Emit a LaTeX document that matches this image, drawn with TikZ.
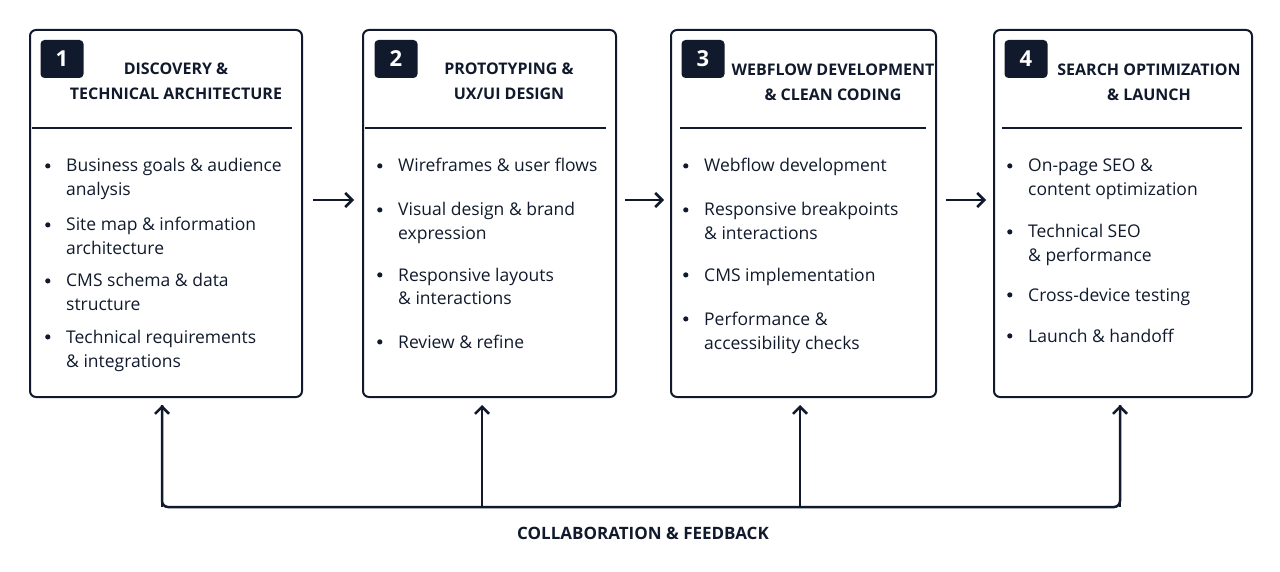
\documentclass[tikz,border=0pt]{standalone}
\usepackage{fontspec}
\setmainfont{Open Sans}
\usetikzlibrary{arrows.meta}
\definecolor{navy}{HTML}{111A2C}

\tikzset{
  stage/.style={draw=navy,line width=2pt,rounded corners=6pt},
  badge/.style={fill=navy,rounded corners=4pt,minimum width=43pt,minimum height=38pt,
    text=white,font=\fontsize{22}{22}\selectfont\bfseries,inner sep=0pt},
  head/.style={align=center,text=navy,font=\fontsize{16}{25}\selectfont\bfseries,inner sep=0pt},
  item/.style={anchor=north west,text=navy,inner sep=0pt,
    font=\fontsize{17.5}{24}\selectfont},
  flow/.style={draw=navy,line width=2.5pt,-{Straight Barb[length=7pt,width=14pt,line width=2.5pt]}},
  rule/.style={draw=navy,line width=2pt}
}
\newcommand{\bul}[1]{\makebox[21pt][l]{\raisebox{3.5pt}{\tikz\fill[navy] (0,0) circle (2.6pt);}}%
  \begin{tabular}[t]{@{}l@{}}#1\end{tabular}}

\begin{document}
\begin{tikzpicture}[x=1pt,y=-1pt]
\useasboundingbox (0,0) rectangle (1280,572);
% Stages
\draw[stage] (30,30) rectangle (302,397);
\draw[stage] (363,30) rectangle (616,397);
\draw[stage] (671,30) rectangle (936,397);
\draw[stage] (994,30) rectangle (1252,397);
\draw[rule] (32,128) -- (292,128);
\draw[rule] (365,128) -- (606,128);
\draw[rule] (680,128) -- (926,128);
\draw[rule] (1002,128) -- (1242,128);
% Badges
\node[badge] (b1) at (62,59) {1};
\node[badge] (b2) at (396,59) {2};
\node[badge] (b3) at (703,59) {3};
\node[badge] (b4) at (1026,59) {4};
% Titles
\node[head] (h1) at (176,81) {DISCOVERY \&\\TECHNICAL ARCHITECTURE};
\node[head] (h2) at (509,81) {PROTOTYPING \&\\UX/UI DESIGN};
\node[head] (h3) at (833,82) {WEBFLOW DEVELOPMENT\\\& CLEAN CODING};
\node[head] (h4) at (1149,82) {SEARCH OPTIMIZATION\\\& LAUNCH};
% Stage 1
\node[item] (s1a) at (45,155) {\bul{Business goals \& audience\\analysis}};
\node[item] (s1b) at (45,214) {\bul{Site map \& information\\architecture}};
\node[item] (s1c) at (45,270) {\bul{CMS schema \& data\\structure}};
\node[item] (s1d) at (45,326) {\bul{Technical requirements\\\& integrations}};
% Stage 2
\node[item] (s2a) at (377,155) {\bul{Wireframes \& user flows}};
\node[item] (s2b) at (377,199) {\bul{Visual design \& brand\\expression}};
\node[item] (s2c) at (377,264) {\bul{Responsive layouts\\\& interactions}};
\node[item] (s2d) at (377,331) {\bul{Review \& refine}};
% Stage 3
\node[item] (s3a) at (683,155) {\bul{Webflow development}};
\node[item] (s3b) at (683,199) {\bul{Responsive breakpoints\\\& interactions}};
\node[item] (s3c) at (683,264) {\bul{CMS implementation}};
\node[item] (s3d) at (683,308) {\bul{Performance \&\\accessibility checks}};
% Stage 4
\node[item] (s4a) at (1007,155) {\bul{On-page SEO \&\\content optimization}};
\node[item] (s4b) at (1007,221) {\bul{Technical SEO\\\& performance}};
\node[item] (s4c) at (1007,284) {\bul{Cross-device testing}};
\node[item] (s4d) at (1007,325) {\bul{Launch \& handoff}};
% Flow arrows
\coordinate (a1) at (313,200); \coordinate (a2) at (354,200);
\coordinate (a3) at (625,200); \coordinate (a4) at (664,200);
\coordinate (a5) at (946,200); \coordinate (a6) at (986,200);
\draw[flow] (a1) -- (a2);
\draw[flow] (a3) -- (a4);
\draw[flow] (a5) -- (a6);
% Feedback loop
\coordinate (f1) at (162,507); \coordinate (f2) at (482,507);
\coordinate (f3) at (800,507); \coordinate (f4) at (1120,507);
\draw[rule,line width=2.5pt,rounded corners=6pt] (162,405) -- (f1) -- (f4) -- (1120,405);
\foreach \f/\x in {f1/162,f2/482,f3/800,f4/1120}
  \draw[flow] (\f) -- (\x,405);
\node[text=navy,font=\fontsize{17}{17}\selectfont\bfseries] (fb) at (643,533) {COLLABORATION \& FEEDBACK};
\end{tikzpicture}
\end{document}
